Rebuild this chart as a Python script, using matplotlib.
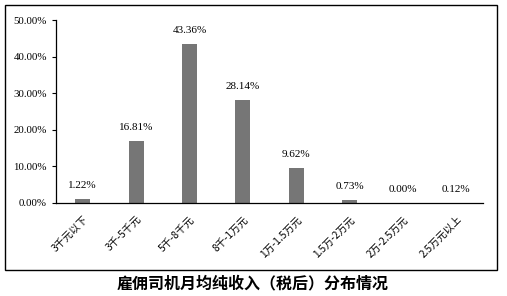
import matplotlib.pyplot as plt
from matplotlib.patches import Rectangle
from matplotlib.ticker import FuncFormatter

categories = ['3千元以下', '3千-5千元', '5千-8千元', '8千-1万元',
              '1万-1.5万元', '1.5万-2万元', '2万-2.5万元', '2.5万元以上']
values = [1.22, 16.81, 43.36, 28.14, 9.62, 0.73, 0.00, 0.12]
title = '雇佣司机月均纯收入（税后）分布情况'

fonts = ['Liberation Serif', 'Noto Sans CJK SC', 'DejaVu Sans']
plt.rcParams['font.family'] = fonts

fig = plt.figure(figsize=(5.07, 2.96), dpi=100)
ax = fig.add_axes([56 / 507, 1 - 203 / 296, 427 / 507, 183 / 296])

x = range(len(categories))
ax.bar(x, values, width=0.28, color='#767676')
for xi, v in zip(x, values):
    ax.annotate(f'{v:.2f}%', (xi, v), xytext=(0, 6.5), textcoords='offset points',
                ha='center', va='bottom', fontsize=8)

ax.set_xlim(-0.5, len(categories) - 0.5)
ax.set_ylim(0, 50)
ax.set_yticks([0, 10, 20, 30, 40, 50])
ax.yaxis.set_major_formatter(FuncFormatter(lambda v, p: f'{v:.2f}%'))
ax.set_xticks(list(x))
ax.set_xticklabels(categories, rotation=45, ha='right', rotation_mode='anchor',
                   fontsize=7.3, family=['Noto Sans CJK SC', 'DejaVu Sans'])
ax.tick_params(axis='x', length=0, pad=8)
ax.tick_params(axis='y', labelsize=7.8, length=3, width=0.8)
for s in ['top', 'right']:
    ax.spines[s].set_visible(False)
for s in ['left', 'bottom']:
    ax.spines[s].set_linewidth(0.9)

fig.patches.append(Rectangle((5 / 507, 1 - 270 / 296), 492 / 507, 265 / 296,
                             transform=fig.transFigure, fill=False,
                             edgecolor='black', linewidth=1))

fig.text(253 / 507, 1 - 283 / 296, title, ha='center', va='center',
         fontsize=11.5, fontweight='bold', family=['Noto Sans CJK SC', 'DejaVu Sans'])

fig.savefig('out.png', dpi=100)
